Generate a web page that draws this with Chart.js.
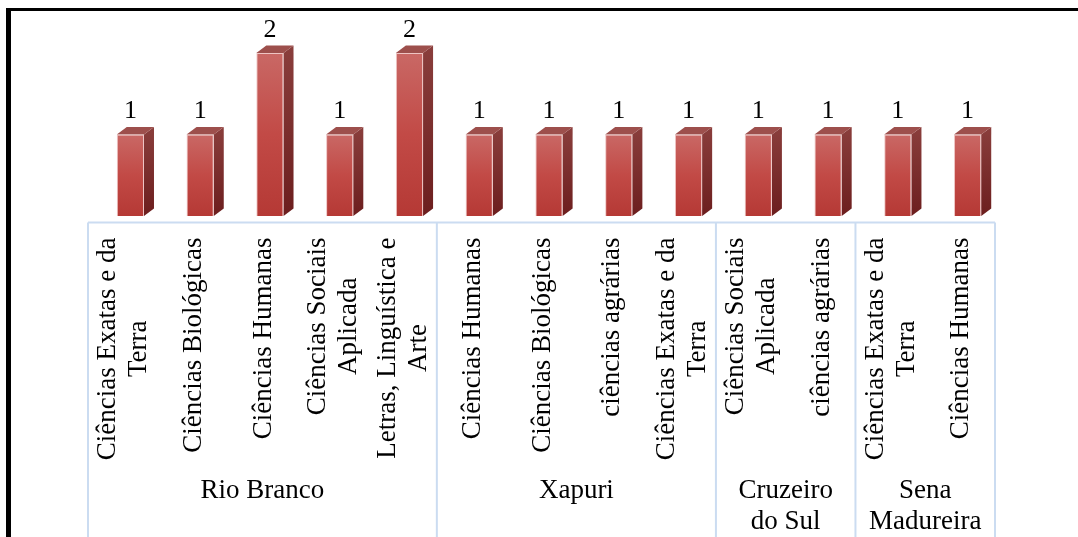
<!DOCTYPE html>
<html>
<head>
<meta charset="utf-8">
<script src="https://cdn.jsdelivr.net/npm/chart.js@4.4.1/dist/chart.umd.min.js"></script>
<style>
  html, body { margin: 0; padding: 0; background: #ffffff; }
  #wrap { width: 1078px; height: 537px; position: relative; }
</style>
</head>
<body>
<div id="wrap"><canvas id="c" width="1078" height="537"></canvas></div>
<script>
// ---- data ----
const categories = [
  ["Ciências Exatas e da", "Terra"],
  ["Ciências Biológicas"],
  ["Ciências Humanas"],
  ["Ciências Sociais", "Aplicada"],
  ["Letras, Linguística e", "Arte"],
  ["Ciências Humanas"],
  ["Ciências Biológicas"],
  ["ciências agrárias"],
  ["Ciências Exatas e da", "Terra"],
  ["Ciências Sociais", "Aplicada"],
  ["ciências agrárias"],
  ["Ciências Exatas e da", "Terra"],
  ["Ciências Humanas"]
];
const values = [1, 1, 2, 1, 2, 1, 1, 1, 1, 1, 1, 1, 1];
const groupNames = [["Rio Branco"], ["Xapuri"], ["Cruzeiro", "do Sul"], ["Sena", "Madureira"]];
const groupSizes = [5, 4, 2, 2];

// ---- styling constants ----
const FONT = '"Liberation Serif", "Times New Roman", serif';
const DX = 10, DY = 7.5;          // 3D depth offsets
const AXIS_SHIFT = -7.5;          // category box shift relative to bar fronts
const BOX_COLOR = '#cbdcf1';

const frontGradient = (ctx) => {
  const chart = ctx.chart;
  if (!chart.chartArea || ctx.type !== 'data') return '#c0504d';
  const y = chart.scales.y;
  const top = y.getPixelForValue(ctx.raw);
  const bot = y.getPixelForValue(0);
  const g = chart.ctx.createLinearGradient(0, top, 0, bot);
  g.addColorStop(0, '#c96865');
  g.addColorStop(0.5, '#c24a46');
  g.addColorStop(1, '#b53935');
  return g;
};

const bar3d = {
  id: 'bar3d',
  beforeDatasetsDraw(chart) {
    const ctx = chart.ctx;
    const meta = chart.getDatasetMeta(0);
    meta.data.forEach((el) => {
      const p = el.getProps(['x', 'y', 'width', 'base'], true);
      const l = p.x - p.width / 2, r = p.x + p.width / 2;
      const g = ctx.createLinearGradient(0, p.y - DY, 0, p.base);
      g.addColorStop(0, '#8a3e3c');
      g.addColorStop(1, '#6c1e1e');
      ctx.save();
      ctx.fillStyle = g;
      ctx.beginPath();
      ctx.moveTo(r, p.y);
      ctx.lineTo(r + DX, p.y - DY);
      ctx.lineTo(r + DX, p.base - DY);
      ctx.lineTo(r, p.base);
      ctx.closePath();
      ctx.fill();
      ctx.fillStyle = '#9d4f4c';
      ctx.beginPath();
      ctx.moveTo(l, p.y);
      ctx.lineTo(l + DX, p.y - DY);
      ctx.lineTo(r + DX, p.y - DY);
      ctx.lineTo(r, p.y);
      ctx.closePath();
      ctx.fill();
      ctx.restore();
    });
  },
  afterDatasetsDraw(chart) {
    const ctx = chart.ctx;
    const meta = chart.getDatasetMeta(0);
    ctx.save();
    ctx.fillStyle = '#000';
    ctx.font = '26px ' + FONT;
    ctx.textAlign = 'center';
    ctx.textBaseline = 'alphabetic';
    meta.data.forEach((el, i) => {
      const p = el.getProps(['x', 'y'], true);
      ctx.fillText(String(values[i]), p.x, p.y - DY - 9);
    });
    ctx.restore();
  }
};

const axisBox = {
  id: 'axisBox',
  afterDraw(chart) {
    const ctx = chart.ctx;
    const xs = chart.scales.x;
    const ca = chart.chartArea;
    const H = chart.height;
    const step = (ca.right - ca.left) / categories.length;
    const edge = (i) => xs.getPixelForValue(i) - step / 2 + AXIS_SHIFT;
    const top = ca.bottom + 6.5;
    ctx.save();
    ctx.strokeStyle = BOX_COLOR;
    ctx.lineWidth = 2;
    const x0 = edge(0), xN = edge(categories.length);
    ctx.beginPath();
    ctx.moveTo(x0, top); ctx.lineTo(xN, top);
    let idx = 0;
    const bounds = [0];
    groupSizes.forEach((s) => { idx += s; bounds.push(idx); });
    bounds.forEach((b) => {
      const x = edge(b);
      ctx.moveTo(x, top); ctx.lineTo(x, H);
    });
    ctx.stroke();

    // rotated category labels
    ctx.fillStyle = '#000';
    ctx.font = '27px ' + FONT;
    const lh = 31;
    const endY = top + 15;
    categories.forEach((lines, i) => {
      const cx = xs.getPixelForValue(i) + AXIS_SHIFT;
      let W = 0;
      lines.forEach((t) => { W = Math.max(W, ctx.measureText(t).width); });
      ctx.save();
      ctx.translate(cx, endY + W / 2);
      ctx.rotate(-Math.PI / 2);
      ctx.textAlign = 'center';
      ctx.textBaseline = 'middle';
      lines.forEach((t, k) => {
        ctx.fillText(t, 0, (k - (lines.length - 1) / 2) * lh + 1);
      });
      ctx.restore();
    });

    // group labels
    ctx.textAlign = 'center';
    ctx.textBaseline = 'alphabetic';
    groupNames.forEach((lines, g) => {
      const cx = (edge(bounds[g]) + edge(bounds[g + 1])) / 2;
      lines.forEach((t, k) => {
        ctx.fillText(t, cx, 498 + k * 31);
      });
    });

    // outer frame
    ctx.fillStyle = '#000';
    ctx.fillRect(6, 8, chart.width - 6, 3);
    ctx.fillRect(6, 8, 5, H - 8);
    ctx.restore();
  }
};

new Chart(document.getElementById('c'), {
  type: 'bar',
  data: {
    labels: categories,
    datasets: [{
      data: values,
      backgroundColor: frontGradient,
      borderColor: 'rgba(236,190,188,0.9)',
      borderWidth: 1,
      barPercentage: 0.39,
      categoryPercentage: 1
    }]
  },
  options: {
    responsive: false,
    animation: false,
    devicePixelRatio: 1,
    layout: { padding: { left: 95.5, right: 75.5, top: 20.4, bottom: 321 } },
    plugins: { legend: { display: false }, tooltip: { enabled: false } },
    scales: {
      x: { display: false, offset: true },
      y: { display: false, min: 0, max: 2.4 }
    }
  },
  plugins: [bar3d, axisBox]
});
</script>
</body>
</html>
